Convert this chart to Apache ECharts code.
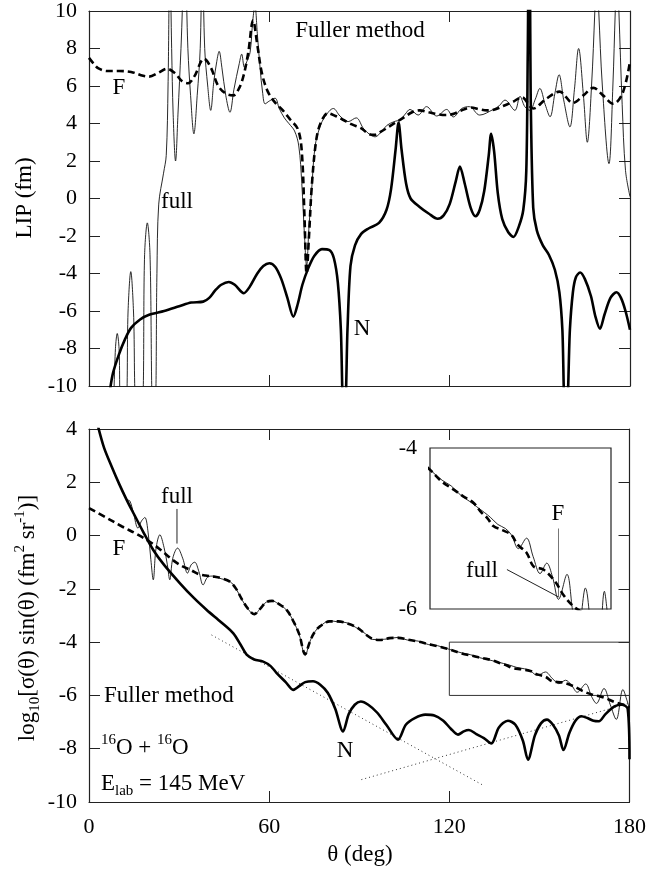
<!DOCTYPE html>
<html>
<head>
<meta charset="utf-8">
<script src="https://cdn.jsdelivr.net/npm/echarts@6/dist/echarts.min.js"></script>
<style>html,body{margin:0;padding:0;background:#fff}#c{width:649px;height:875px}</style>
</head>
<body>
<div id="c"></div>
<script>
// ---------- DATA (θ in deg, value) ----------
// Top panel: LIP (fm)
const topN = [[7.0,-10.2],[8,-9.3],[10,-8.3],[12,-7.5],[14,-6.9],[17,-6.45],[20,-6.2],[25,-6.0],[30,-5.75],[34,-5.55],[38,-5.5],[40,-5.3],[42,-4.9],[44,-4.6],[46.5,-4.45],[48.5,-4.6],[51.5,-5.05],[53.5,-4.7],[56,-4.0],[58,-3.6],[60,-3.45],[62,-3.65],[64,-4.3],[66,-5.3],[68,-6.3],[69.5,-5.6],[71,-4.6],[73,-3.7],[75,-3.05],[77.5,-2.7],[80,-2.75],[81.5,-3.2],[82.8,-4.5],[83.8,-7],[84.6,-11],[85.2,-11],[86,-7],[87,-3.6],[88.5,-2.5],[90.5,-1.9],[93,-1.6],[96.5,-1.3],[99,-0.6],[100.5,0.5],[102,2.6],[103,4.05],[104,2.6],[105.5,0.8],[107,0],[110,-0.45],[113,-0.8],[116,-1.08],[118,-0.9],[120,-0.3],[122,0.9],[123.4,1.7],[125,0.8],[127,-0.5],[128.6,-0.95],[130,-0.6],[131.5,0.4],[133,2.3],[133.8,3.45],[134.8,2.5],[136,0.3],[137.5,-1.1],[139.5,-1.8],[141.2,-2.05],[143,-1.5],[144.5,-0.6],[145.5,1.5],[146,8],[146.3,12],[146.6,12],[147,5],[147.8,-0.5],[149,-1.7],[151,-2.5],[153,-3.0],[155,-3.8],[156.5,-5],[157.5,-7],[158.3,-11],[159,-11],[160,-7],[161,-5.0],[162,-4.2],[163.4,-3.95],[165,-4.3],[167,-5.2],[168.5,-6.3],[170,-6.95],[171.5,-6.2],[173.5,-5.3],[175.5,-5.0],[177,-5.3],[178.5,-6],[180,-7.0]];
const topF = [[0,7.5],[1.5,7.2],[3,6.95],[6,6.8],[10,6.8],[14,6.75],[18,6.55],[20,6.5],[23,6.7],[26,6.92],[28.5,6.7],[31,6.25],[33,6.15],[35,6.5],[38.3,7.45],[40.5,7.0],[43,6.0],[45.5,5.6],[48,5.5],[50,5.9],[51.5,6.6],[53,7.8],[54.6,9.5],[56,8.2],[57.5,6.7],[59.5,5.7],[62,5.1],[64.5,4.7],[67,4.2],[69.5,3.7],[70.8,2.5],[71.7,-1],[72.4,-4.0],[73.2,-2],[74.1,0.6],[75.5,3.0],[77,4.0],[79.5,4.55],[82,4.4],[84.5,4.2],[87.5,3.95],[90.5,3.75],[93,3.45],[95,3.4],[97,3.55],[100,3.85],[102.5,4.1],[105,4.35],[107.5,4.6],[110,4.7],[113,4.6],[116,4.5],[118.5,4.45],[121,4.5],[124,4.7],[127,4.85],[130,4.75],[132.5,4.7],[135,4.75],[138,4.95],[141,5.15],[144,5.4],[147.8,4.8],[152,5.3],[156.5,5.7],[161,5.1],[164.5,5.5],[167.8,5.9],[171,5.5],[174.4,5.05],[177.5,5.6],[180,7.3]];
const topFull = [[8.2,-11],[8.8,-8],[9.4,-7.2],[10,-8],[10.6,-11],[12.2,-11],[13,-6],[13.9,-3.9],[14.8,-6],[15.8,-11],[17.6,-11],[18.5,-3],[19.4,-1.3],[20.3,-3],[21.2,-11],[22.0,-11],[22.6,-4],[23.2,-0.3],[24.8,1.35],[25.7,2.3],[26.3,6],[26.9,13],[27.5,8],[28.0,4.5],[28.8,2.0],[29.6,4.5],[30.6,8],[31.9,13],[32.9,8],[33.8,5.5],[34.9,3.45],[36,5.5],[37.0,8],[37.7,13],[38.5,8],[39.5,6.0],[40.5,4.7],[41.5,6.2],[42.5,7.3],[43.3,7.85],[44.2,7],[45.5,5.5],[46.9,4.6],[48.2,5.8],[50,7.2],[50.8,7.7],[51.7,7.0],[52.5,7.3],[53.6,7.8],[54.5,9.5],[55.2,10.3],[56,8.8],[56.9,7.0],[57.8,5.6],[58.6,5.05],[60,5.2],[61.9,5.35],[63.3,4.8],[65,4.3],[66.5,4.0],[68.4,3.6],[69.8,2.8],[70.8,0.8],[71.7,-2],[72.4,-3.6],[73.2,-1.5],[74.1,0.5],[75.2,2.76],[76.8,3.8],[78.5,4.36],[81.3,4.8],[83.5,4.4],[86.2,4.1],[88.9,4.3],[91.5,3.7],[95.2,3.29],[97.5,3.6],[99.1,3.9],[101.5,4.1],[103.5,4.2],[105.2,4.5],[106.8,4.75],[109.5,4.45],[112.3,4.9],[115.7,4.4],[119,4.75],[121.2,4.35],[124,4.8],[126.5,4.9],[130,4.45],[134.5,4.75],[136.5,4.95],[138.4,5.25],[141.7,4.7],[143.4,5.45],[145,4.9],[146.7,4.7],[148.5,5.3],[150,5.87],[151.8,5.0],[153.4,4.36],[155,5.6],[156.4,6.6],[158,5.2],[160,3.82],[161.5,5.8],[162.9,8.0],[164.5,5.5],[165.8,3.0],[167.2,6],[168.3,10],[168.9,12.5],[169.6,10],[170.8,6],[173,1.86],[174.3,6],[175.1,10],[175.7,12.5],[176.3,10],[177.4,5],[178.5,1.5],[180,0.1]];

// Bottom panel: log10[σ sinθ]
const botN = [[3,4.1],[5,3.3],[7.5,2.6],[10,1.95],[12.5,1.35],[15,0.8],[18,0.15],[21.4,-0.54],[25,-1.1],[30.3,-1.79],[35,-2.35],[39.2,-2.79],[44,-3.25],[48,-3.66],[50.5,-4.1],[52.5,-4.47],[55,-4.65],[58,-4.73],[60.5,-4.9],[62.5,-5.16],[65.5,-5.5],[68,-5.79],[70,-5.65],[72,-5.5],[74.6,-5.47],[77,-5.6],[79.5,-5.9],[82,-6.5],[84.6,-7.35],[86.5,-6.7],[88.5,-6.35],[90.5,-6.23],[93,-6.35],[96,-6.65],[99,-7.1],[102.9,-7.66],[105.5,-7.1],[108.5,-6.85],[112,-6.72],[115,-6.75],[118,-6.95],[120.5,-7.25],[122.9,-7.47],[124.8,-7.35],[126.5,-7.3],[129,-7.45],[131.5,-7.6],[134,-7.8],[136.5,-7.2],[139.5,-6.95],[142,-7.1],[144.5,-7.7],[146.2,-8.41],[148.5,-7.5],[150.5,-7.05],[152.5,-6.91],[154.5,-7.1],[156.5,-7.5],[158,-8.05],[160,-7.4],[162,-6.95],[164,-6.78],[166,-6.85],[168,-6.95],[169.8,-6.97],[172,-6.7],[175,-6.41],[177.5,-6.35],[179.4,-6.5],[180,-8.4]];
const botF = [[0,1.03],[5,0.72],[11,0.34],[16,0.05],[21,-0.29],[24,-0.55],[27.7,-0.9],[31,-1.15],[34,-1.3],[36.5,-1.45],[38.8,-1.5],[41.4,-1.54],[44,-1.6],[46.9,-1.73],[49,-2.0],[51,-2.41],[53,-2.75],[55,-2.95],[57,-2.75],[59,-2.5],[61,-2.45],[63,-2.55],[65.8,-2.79],[68,-3.2],[70,-3.7],[72,-4.45],[73.5,-4.0],[75,-3.65],[77,-3.4],[80.2,-3.22],[83,-3.22],[86,-3.3],[89.6,-3.47],[92,-3.7],[94.5,-3.88],[97,-3.92],[100,-3.85],[103,-3.84],[106,-3.9],[109.6,-3.98],[113,-4.07],[116,-4.15],[120,-4.27],[124,-4.42],[128,-4.52],[131,-4.6],[134.4,-4.68],[137,-4.8],[139,-4.87],[141,-4.97],[144,-5.02],[147,-5.08],[149,-5.2],[152,-5.3],[154.3,-5.47],[157.6,-5.51],[161.5,-5.66],[164.3,-5.83],[167.6,-5.97],[170,-6.03],[172,-6.1],[175,-6.25],[178,-6.35],[180,-6.45]];
const botFull = [[10,1.95],[11.5,1.62],[12.6,1.35],[13.6,1.3],[14.8,0.85],[16.3,0.28],[17.5,0.55],[18.6,0.68],[19.7,0.1],[20.6,-0.9],[21.4,-1.66],[22.3,-0.5],[23.6,0.03],[25,-0.45],[26.1,-1.1],[26.9,-1.66],[27.9,-0.85],[29.5,-0.47],[31.2,-0.85],[32.8,-1.41],[34,-1.1],[35.2,-1.0],[36.6,-1.35],[38,-1.85],[39.6,-1.55],[41.4,-1.52],[44,-1.62],[46.9,-1.72],[49,-2.0],[51,-2.42],[53,-2.76],[55,-2.97],[57,-2.74],[59,-2.5],[61,-2.45],[63,-2.56],[65.8,-2.8],[68,-3.2],[70,-3.72],[72,-4.5],[73.5,-4.0],[75,-3.64],[77,-3.4],[80.2,-3.2],[83,-3.24],[86,-3.28],[89.6,-3.5],[92,-3.68],[94.5,-3.9],[97,-3.9],[100,-3.87],[103,-3.82],[106,-3.92],[109.6,-3.96],[113,-4.09],[116,-4.13],[120,-4.27],[124,-4.40],[127,-4.47],[130,-4.58],[133,-4.66],[135.5,-4.73],[138,-4.8],[140,-4.86],[142.5,-4.95],[145,-5.0],[147,-5.08],[149.3,-5.25],[152,-5.12],[154.2,-5.35],[156.5,-5.56],[158.7,-5.43],[160.6,-5.6],[162.6,-5.88],[165.4,-5.57],[167.4,-6.05],[169,-6.3],[171.5,-5.74],[173.6,-6.35],[175.6,-6.9],[177.8,-5.78],[179.2,-6.2],[180,-6.5]];
const dotA = [[40.8,-3.73],[130.9,-9.35]];
const dotB = [[90.7,-9.16],[180,-6.29]];
const zoomBox = [[120,-4],[180,-6]];
const fullPointer = [[29.3,1.0],[29.3,-0.3]];
const insetFPointer = [[162.6,-5.0],[162.6,-5.85]];
const insetFullPointer = [[145.5,-5.51],[162.6,-5.85]];

// axis ranges / ticks
const thetaRange = [0,180], thetaStep = 60;
const lipRange = [-10,10], lipStep = 2;
const logRange = [-10,4], logStep = 2;
const insetTheta = [120,180], insetLog = [-6,-4];

// ---------- CHART ----------
const FONT = '"Liberation Serif","DejaVu Serif",serif';
const AX = '#222';
const chart = echarts.init(document.getElementById('c'), null, {renderer:'canvas'});

function xa(grid, pos, labels, range, step){
  return {type:'value', gridIndex:grid, position:pos, min:range[0], max:range[1], interval:step,
    axisLine:{show:true, onZero:false, lineStyle:{color:AX, width:1.2}},
    axisTick:{show:true, inside:true, length:11, lineStyle:{color:AX, width:1}},
    axisLabel:{show:labels, margin:14, fontSize:22, fontFamily:FONT, color:'#000'},
    splitLine:{show:false}};
}
function ya(grid, pos, labels, range, step){
  return {type:'value', gridIndex:grid, position:pos, min:range[0], max:range[1], interval:step,
    axisLine:{show:true, onZero:false, lineStyle:{color:AX, width:1.2}},
    axisTick:{show:true, inside:true, length:11, lineStyle:{color:AX, width:1}},
    axisLabel:{show:labels, margin:12, fontSize:22, fontFamily:FONT, color:'#000'},
    splitLine:{show:false}};
}
const xAxes = [xa(0,'bottom',false,thetaRange,thetaStep), xa(0,'top',false,thetaRange,thetaStep),
  xa(1,'bottom',true,thetaRange,thetaStep), xa(1,'top',false,thetaRange,thetaStep),
  {type:'value', gridIndex:2, min:insetTheta[0], max:insetTheta[1], axisLine:{show:false}, axisTick:{show:false}, axisLabel:{show:false}, splitLine:{show:false}}];
const yAxes = [ya(0,'left',true,lipRange,lipStep), ya(0,'right',false,lipRange,lipStep),
  ya(1,'left',true,logRange,logStep), ya(1,'right',false,logRange,logStep),
  {type:'value', gridIndex:2, min:insetLog[0], max:insetLog[1], interval:2, axisLine:{show:false}, axisTick:{show:false},
   axisLabel:{show:true, margin:13, fontSize:22, fontFamily:FONT, color:'#000'}, splitLine:{show:false}}];

function ln(data, ai, style, smooth, z){
  return {type:'line', data:data, xAxisIndex:ai, yAxisIndex:ai, symbol:'none', smooth:smooth, clip:true,
    lineStyle:style, silent:true, animation:false, z:z||2};
}
const thin = {color:'#111', width:0.9};
const dash = {color:'#000', width:2.6, type:[7,4]};
const thick = {color:'#000', width:2.6};
const dotted = {color:'#333', width:1, type:[1,3]};
const ptr = {color:'#222', width:1};

const series = [
  ln(topFull,0,thin,0.35,2), ln(topF,0,dash,0.35,3), ln(topN,0,thick,0.3,4),
  ln(dotA,2,dotted,false,1), ln(dotB,2,dotted,false,1),
  ln(botFull,2,thin,0.35,2),
  Object.assign(ln(botF,2,dash,0.35,3), {markArea:{silent:true, itemStyle:{color:'rgba(0,0,0,0)', borderColor:'#333', borderWidth:1},
    data:[[{coord:zoomBox[0]},{coord:zoomBox[1]}]]}}),
  ln(botN,2,thick,0.3,4),
  ln(fullPointer,2,ptr,false,2),
  ln(botFull,4,thin,0.35,5), ln(botF,4,dash,0.35,6),
  ln(insetFPointer,4,{color:'#777',width:1},false,5), ln(insetFullPointer,4,ptr,false,5)
];

function txt(x,y,text,opt){
  opt = opt||{};
  return {type:'text', x:x, y:y, rotation:opt.rot||0, z:100, silent:true,
    style:Object.assign({text:text, fill:'#000', font:(opt.size||23)+'px '+FONT, align:opt.align||'center', verticalAlign:'middle'}, opt.style||{})};
}
const rich = {
  t:{fontSize:23, fontFamily:FONT, color:'#000', lineHeight:30},
  p:{fontSize:15, fontFamily:FONT, color:'#000', verticalAlign:'top', lineHeight:14},
  s:{fontSize:15, fontFamily:FONT, color:'#000', verticalAlign:'bottom', lineHeight:14}
};

const option = {
  backgroundColor:'#fff',
  animation:false,
  grid:[
    {left:89, top:11, width:541, height:375},
    {left:89, top:429, width:541, height:373},
    {left:430, top:448, width:181, height:161, show:true, borderColor:'#222', borderWidth:1.2, backgroundColor:'#fff', z:3}
  ],
  xAxis:xAxes, yAxis:yAxes, series:series,
  graphic:[
    txt(360,31,'Fuller method'),
    txt(119,88,'F'),
    txt(177,202,'full'),
    txt(362,329,'N'),
    txt(25,198,'LIP (fm)',{rot:Math.PI/2}),
    txt(177,497,'full'),
    txt(119,549,'F'),
    txt(345,751,'N'),
    txt(104,696,'Fuller method',{align:'left'}),
    txt(101,748,'',{align:'left', style:{text:'{p|16}{t|O + }{p|16}{t|O}', rich:rich}}),
    txt(101,784,'',{align:'left', style:{text:'{t|E}{s|lab}{t| = 145 MeV}', rich:rich}}),
    txt(28,618,'',{rot:Math.PI/2, style:{text:'{t|log}{s|10}{t|[σ(θ) sin(θ) (fm}{p|2}{t| sr}{p|-1}{t|)]}', rich:rich}}),
    txt(360,855,'θ (deg)'),
    txt(558,514,'F'),
    txt(482,571,'full')
  ]
};
chart.setOption(option);
</script>
</body>
</html>
